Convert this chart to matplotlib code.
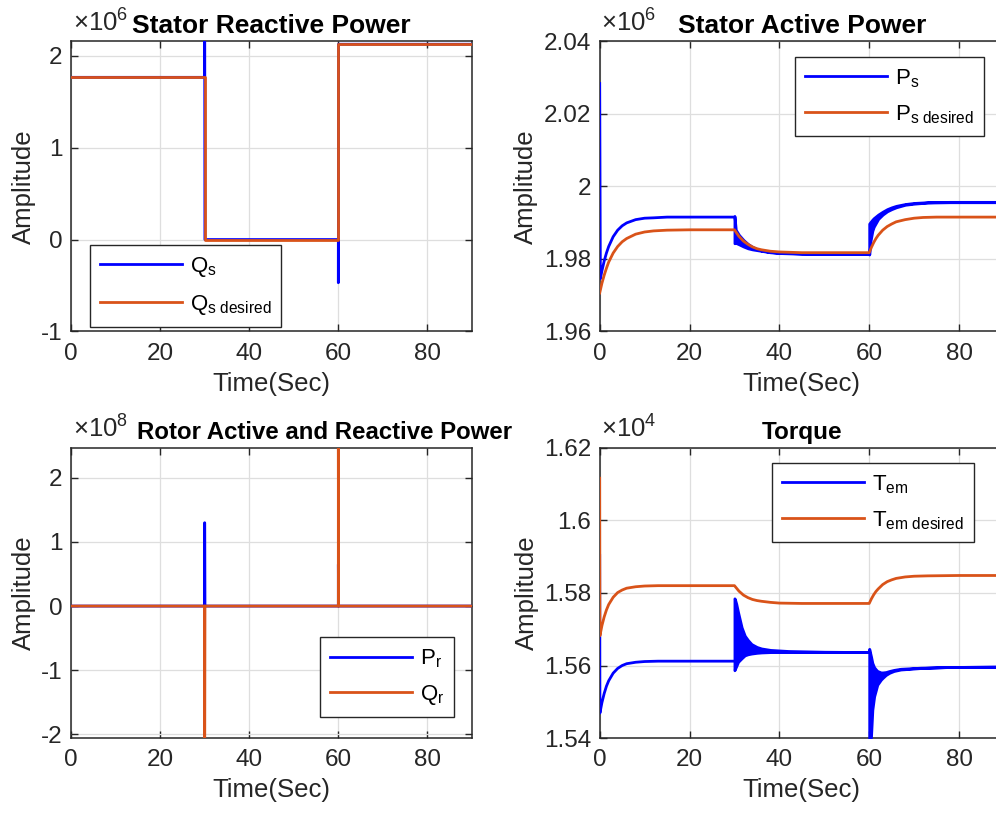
import numpy as np
import matplotlib
matplotlib.use('Agg')
import matplotlib.pyplot as plt
from matplotlib.ticker import FuncFormatter

plt.rcParams['font.family'] = ['Liberation Sans', 'DejaVu Sans']
plt.rcParams['mathtext.fontset'] = 'custom'
plt.rcParams['mathtext.rm'] = 'Liberation Sans'
plt.rcParams['mathtext.it'] = 'Liberation Sans:italic'
plt.rcParams['mathtext.bf'] = 'Liberation Sans:bold'

## ---------------- data ----------------
# stator reactive power, x1e6
qs_t = [0, 30, 30, 30.05, 60, 60, 60.05, 90]
qs_v = [1.765, 1.765, 2.25, 0.0, 0.0, -0.47, 2.125, 2.125]
qsd_t = [0, 30, 30, 60, 60, 90]
qsd_v = [1.765, 1.765, 0.0, 0.0, 2.127, 2.127]

# stator active power, x1e6
ps_t1 = [0, 0.15, 0.5, 1, 1.5, 2, 3, 4, 5, 6, 8, 10, 12, 15, 20, 30]
ps_v1 = [2.0283, 1.9745, 1.9767, 1.9794, 1.9816, 1.9834, 1.9861, 1.9879, 1.9891,
         1.9899, 1.9908, 1.9912, 1.9913, 1.9915, 1.9915, 1.9915]
# oscillation bands (upper / lower envelope)
ps_b2_t = [30, 30.3, 31, 32, 33, 34, 35, 36, 38, 40, 45, 60]
ps_b2_hi = [1.9918, 1.9880, 1.9866, 1.9852, 1.9841, 1.9833, 1.9827, 1.9823, 1.9819, 1.9817, 1.9815, 1.9814]
ps_b2_lo = [1.9843, 1.9844, 1.9840, 1.9834, 1.9829, 1.9826, 1.9824, 1.9822, 1.9818, 1.9816, 1.9814, 1.9813]
ps_b3_t = [60, 60.3, 60.7, 61, 62, 63, 64, 65, 66, 68, 70, 73, 78, 90]
ps_b3_hi = [1.9897, 1.9902, 1.9908, 1.9912, 1.9922, 1.9930, 1.9937, 1.9942, 1.9946, 1.9951, 1.9954, 1.9956, 1.9957, 1.9957]
ps_b3_lo = [1.9812, 1.9850, 1.9877, 1.9888, 1.9910, 1.9922, 1.9931, 1.9937, 1.9942, 1.9949, 1.9952, 1.9955, 1.9956, 1.9956]
psd_t = [0, 0.5, 1, 1.5, 2, 3, 4, 5, 6, 8, 10, 12, 15, 20, 30,
         31, 32, 33, 34, 35, 36, 38, 40, 45, 60,
         60.5, 61, 61.5, 62, 63, 64, 65, 66, 68, 70, 72, 75, 90]
psd_v = [1.9706, 1.9733, 1.9755, 1.9774, 1.9791, 1.9816, 1.9834, 1.9847, 1.9856, 1.9868, 1.9874, 1.9877, 1.9879, 1.9880, 1.9880,
         1.9862, 1.9849, 1.9840, 1.9833, 1.9828, 1.9825, 1.9821, 1.9819, 1.9817, 1.9817,
         1.9832, 1.9845, 1.9856, 1.9865, 1.9879, 1.9889, 1.9896, 1.9902, 1.9908, 1.9912, 1.9914, 1.9915, 1.9915]

# rotor active / reactive power, x1e8
pr_t = [0, 30, 30, 30.05, 60, 60, 60.05, 90]
pr_v = [0, 0, 1.30, 0, 0, 0.65, 0, 0]
qr_t = [0, 30, 30, 30.05, 60, 60, 60.05, 90]
qr_v = [0, 0, -2.06, 0, 0, 2.47, 0, 0]

# torque, x1e4
tem_t1 = [0, 0.05, 0.5, 1, 1.5, 2, 3, 4, 5, 6, 8, 10, 13, 18, 30]
tem_v1 = [1.5903, 1.5469, 1.5498, 1.5523, 1.5543, 1.5558, 1.5579, 1.5592, 1.5600,
          1.5605, 1.5609, 1.5611, 1.5612, 1.5612, 1.5612]
tem_b2_t = [30, 30.1, 30.4, 30.8, 31.6, 32.3, 33.0, 33.8, 35, 36, 38, 42, 50, 60]
tem_b2_hi = [1.5785, 1.5783, 1.5770, 1.5747, 1.5705, 1.5682, 1.5670, 1.5659, 1.5651, 1.5647, 1.5643, 1.5640, 1.5638, 1.5637]
tem_b2_lo = [1.5587, 1.5590, 1.5598, 1.5610, 1.5620, 1.5628, 1.5631, 1.5633, 1.5635, 1.5636, 1.5637, 1.5637, 1.5637, 1.5637]
tem_b3_t = [60, 60.4, 60.7, 61.1, 61.5, 61.8, 62.6, 63, 63.7, 64.5, 65.5, 67, 71.4, 78, 90]
tem_b3_hi = [1.5646, 1.5625, 1.5607, 1.5595, 1.5589, 1.5585, 1.5581, 1.5581, 1.5582, 1.5585, 1.5588, 1.5591, 1.5594, 1.5596, 1.5597]
tem_b3_lo = [1.5380, 1.5404, 1.5478, 1.5515, 1.5533, 1.5547, 1.5561, 1.5566, 1.5574, 1.5580, 1.5585, 1.5589, 1.5593, 1.5596, 1.5597]
temd_t = [0, 0.05, 0.5, 1, 1.5, 2, 3, 4, 5, 6, 8, 10, 13, 30,
          31, 32, 33, 34, 35, 36, 38, 40, 45, 60,
          60.5, 61, 61.5, 62, 63, 64, 65, 66, 68, 70, 73, 80, 90]
temd_v = [1.6116, 1.5682, 1.5710, 1.5734, 1.5753, 1.5768, 1.5788, 1.5801, 1.5808, 1.5813, 1.5817, 1.5819, 1.5820, 1.5820,
          1.5805, 1.5794, 1.5787, 1.5782, 1.5779, 1.5777, 1.5774, 1.5772, 1.5771, 1.5771,
          1.5784, 1.5795, 1.5804, 1.5811, 1.5823, 1.5831, 1.5836, 1.5840, 1.5844, 1.5846, 1.5847, 1.5848, 1.5848]

## ---------------- styling ----------------
BLUE = '#0000ff'
ORANGE = '#d95319'
DARK = '#262626'
LW = 2.0
TICKFS = 17.5
LABFS = 18.5

fig = plt.figure(figsize=(9.96, 8.14), dpi=100)
ax1 = fig.add_axes([0.0713, 0.5928, 0.4026, 0.3568])
ax2 = fig.add_axes([0.6021, 0.5928, 0.4059, 0.3568])
ax3 = fig.add_axes([0.0713, 0.0932, 0.4026, 0.3568])
ax4 = fig.add_axes([0.6021, 0.0932, 0.4059, 0.3568])

fmt = FuncFormatter(lambda v, p: '%g' % round(v, 6))


def style(ax, ylim, yticks, expo):
    ax.set_xlim(0, 90)
    ax.set_ylim(*ylim)
    ax.set_xticks([0, 20, 40, 60, 80])
    ax.set_yticks(yticks)
    ax.yaxis.set_major_formatter(fmt)
    ax.grid(True, color='#dedede', lw=0.9)
    ax.set_axisbelow(True)
    ax.tick_params(direction='in', top=True, right=True, length=5, width=1,
                   labelsize=TICKFS, colors=DARK)
    ax.tick_params(axis='x', pad=8)
    ax.tick_params(axis='y', pad=6)
    for s in ax.spines.values():
        s.set_color(DARK)
        s.set_linewidth(1.1)
    ax.set_xlabel('Time(Sec)', fontsize=LABFS, color=DARK, labelpad=5)
    ax.set_ylabel('Amplitude', fontsize=LABFS, color=DARK, labelpad=4)
    ax.text(0.004, 1.016, '×10$^{\\mathregular{%d}}$' % expo, transform=ax.transAxes,
            ha='left', va='bottom', fontsize=18.5, color=DARK)


def legend(ax, labels, loc, anchor):
    h = [plt.Line2D([], [], color=BLUE, lw=LW), plt.Line2D([], [], color=ORANGE, lw=LW)]
    leg = ax.legend(h, labels, loc=loc, bbox_to_anchor=anchor, fontsize=16,
                    handlelength=3.7, handletextpad=0.35, borderaxespad=0,
                    fancybox=False, framealpha=1, edgecolor=DARK,
                    labelspacing=0.6, borderpad=0.45)
    leg.get_frame().set_linewidth(1.0)
    leg.set_zorder(5)


# --- Stator reactive power
ax1.plot(qs_t, qs_v, color=BLUE, lw=LW, zorder=3)
ax1.plot(qsd_t, qsd_v, color=ORANGE, lw=LW, zorder=3)
style(ax1, (-1, 2.16), [-1, 0, 1, 2], 6)
ax1.set_title('Stator Reactive Power', fontsize=19, fontweight='bold', pad=6)
legend(ax1, ['Q$_\\mathregular{s}$', 'Q$_\\mathregular{s\\ desired}$'], 'lower left', (0.047, 0.017))

# --- Stator active power
ax2.plot(ps_t1, ps_v1, color=BLUE, lw=LW, zorder=3)
ax2.fill_between(ps_b2_t, ps_b2_lo, ps_b2_hi, color=BLUE, lw=LW, zorder=3)
ax2.fill_between(ps_b3_t, ps_b3_lo, ps_b3_hi, color=BLUE, lw=LW, zorder=3)
ax2.plot(psd_t, psd_v, color=ORANGE, lw=LW, zorder=3)
style(ax2, (1.96, 2.04), [1.96, 1.98, 2.0, 2.02, 2.04], 6)
ax2.set_title('Stator Active Power', fontsize=19, fontweight='bold', pad=6)
legend(ax2, ['P$_\\mathregular{s}$', 'P$_\\mathregular{s\\ desired}$'], 'upper left', (0.483, 0.945))

# --- Rotor active and reactive power
ax3.plot(pr_t, pr_v, color=BLUE, lw=LW, zorder=3)
ax3.plot(qr_t, qr_v, color=ORANGE, lw=LW, zorder=3)
style(ax3, (-2.06, 2.47), [-2, -1, 0, 1, 2], 8)
ax3.set_title('Rotor Active and Reactive Power', fontsize=17.3, fontweight='bold',
              pad=6, loc='left', x=0.165)
legend(ax3, ['P$_\\mathregular{r}$', 'Q$_\\mathregular{r}$'], 'lower right', (0.955, 0.072))

# --- Torque
ax4.plot(tem_t1, tem_v1, color=BLUE, lw=LW, zorder=3)
ax4.fill_between(tem_b2_t, tem_b2_lo, tem_b2_hi, color=BLUE, lw=LW, zorder=3)
ax4.fill_between(tem_b3_t, tem_b3_lo, tem_b3_hi, color=BLUE, lw=LW, zorder=3)
ax4.plot(temd_t, temd_v, color=ORANGE, lw=LW, zorder=3)
style(ax4, (1.54, 1.62), [1.54, 1.56, 1.58, 1.60, 1.62], 4)
ax4.set_title('Torque', fontsize=17.5, fontweight='bold', pad=6)
legend(ax4, ['T$_\\mathregular{em}$', 'T$_\\mathregular{em\\ desired}$'], 'upper left', (0.426, 0.947))

fig.savefig('out.png', dpi=100)
